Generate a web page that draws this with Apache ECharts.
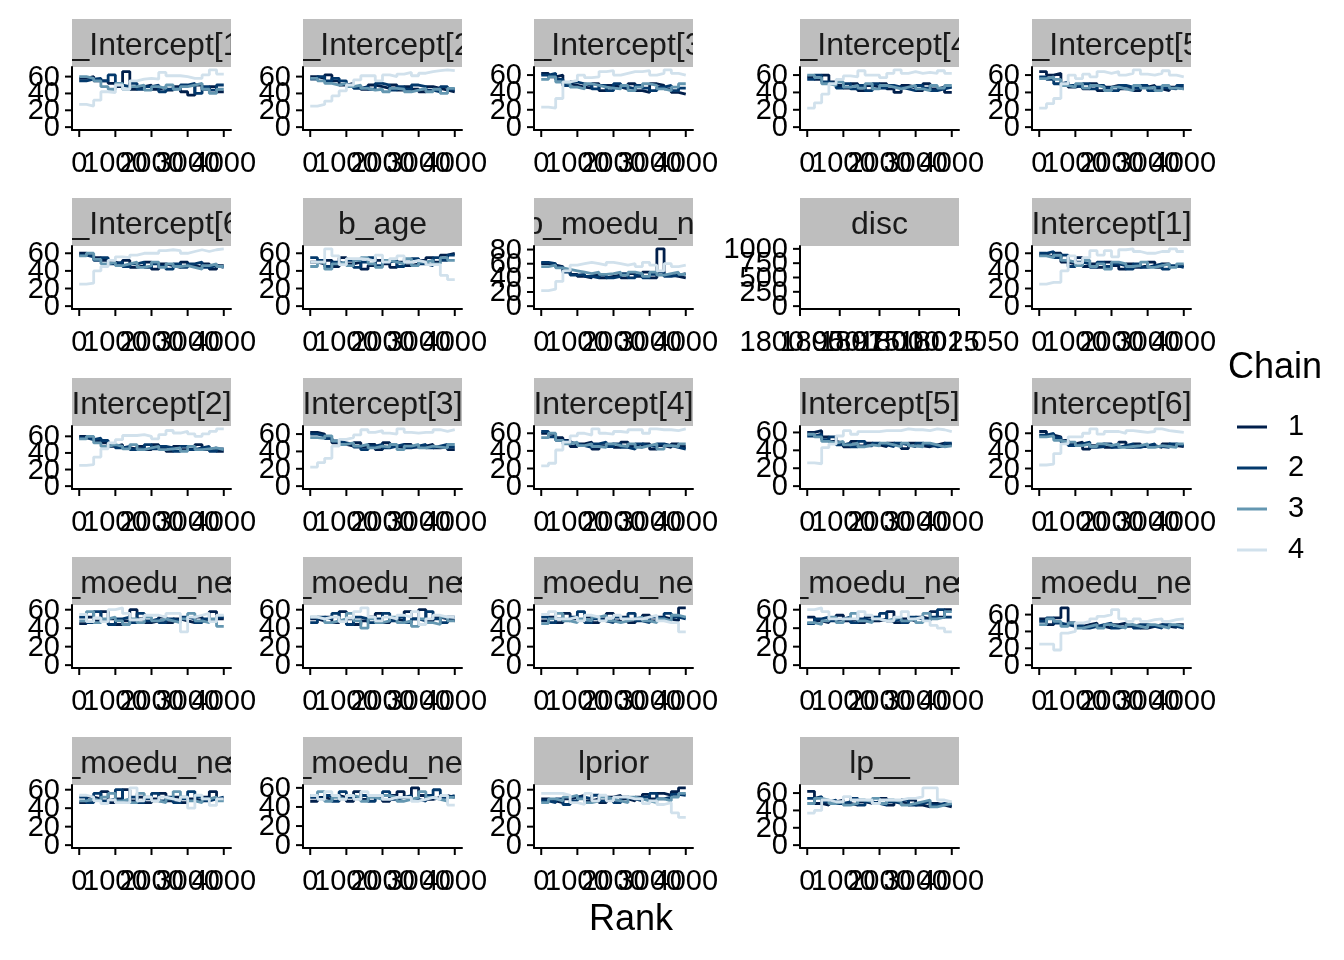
<!DOCTYPE html>
<html>
<head>
<meta charset="utf-8">
<script src="https://cdn.jsdelivr.net/npm/echarts@6/dist/echarts.min.js"></script>
<style>
html,body{margin:0;padding:0;background:#fff;}
#chart{width:1344px;height:960px;}
</style>
</head>
<body>
<div id="chart"></div>
<script>
// ---------------- DATA ----------------
const panelNames = ["b_Intercept[1]","b_Intercept[2]","b_Intercept[3]","b_Intercept[4]","b_Intercept[5]",
  "b_Intercept[6]","b_age","bsp_moedu_new","disc","Intercept[1]",
  "Intercept[2]","Intercept[3]","Intercept[4]","Intercept[5]","Intercept[6]",
  "simo_moedu_new1[1]","simo_moedu_new1[2]","simo_moedu_new1[3]","simo_moedu_new1[4]","simo_moedu_new1[5]",
  "simo_moedu_new1[6]","simo_moedu_new1[7]","lprior","lp__"];
const chainNames = ["1","2","3","4"];
const rankBinStarts = [0,200,400,600,800,1000,1200,1400,1600,1800,2000,2200,2400,2600,2800,3000,3200,3400,3600,3800];
const rankMax = 4000;
const rankTickLabels = [0,1000,2000,3000,4000];
const countTickStep = 20;
const discRankTickLabels = [1800.95,1800.975,1801.0,1801.025,1801.05];
const discCountTickLabels = [0,250,500,750,1000];

// counts per rank bin, one row per chain (1..4)
const bIntercept1 = [
  [58,60,55,55,52,48,66,45,48,50,45,47,44,48,42,38,50,45,48,42],
  [55,57,58,55,62,50,48,52,45,48,50,42,45,46,50,52,40,48,44,50],
  [60,58,55,48,45,52,45,48,50,44,48,46,50,45,48,50,52,45,40,45],
  [27,25,32,42,41,50,45,55,57,58,57,65,61,61,60,58,58,62,68,63]];
const bIntercept2 = [
  [60,58,62,55,50,52,48,45,50,48,46,50,44,48,45,42,48,46,44,42],
  [57,60,55,58,55,50,46,48,45,52,50,44,48,45,50,48,44,42,48,45],
  [58,55,52,50,52,48,50,46,44,45,42,46,45,42,44,46,42,45,40,46],
  [25,27,31,37,43,50,56,61,61,55,62,60,63,65,61,64,66,67,68,67]];
const bIntercept3 = [
  [62,58,60,50,48,46,45,50,42,48,46,44,50,42,40,50,48,44,40,38],
  [60,62,55,48,52,50,48,44,48,42,50,46,44,48,45,42,46,48,42,45],
  [55,58,52,50,46,44,50,48,46,45,44,48,42,46,50,48,44,42,46,50],
  [23,22,33,52,54,60,57,58,64,65,60,62,64,64,65,60,62,66,62,60]];
const bIntercept4 = [
  [58,55,60,52,48,45,50,42,48,46,50,44,40,48,46,42,50,44,46,40],
  [55,60,52,50,45,50,44,48,42,50,45,48,46,44,42,48,45,42,44,46],
  [60,57,50,48,52,46,48,45,50,44,48,46,44,46,48,44,42,48,45,48],
  [22,28,38,50,55,59,58,65,60,60,57,62,66,62,64,62,63,62,65,62]];
const bIntercept5 = [
  [64,60,62,50,46,48,44,50,42,46,48,44,45,42,46,48,44,42,46,44],
  [58,55,50,52,48,46,50,44,48,45,42,48,46,44,48,42,46,45,44,48],
  [56,58,55,48,46,50,45,48,46,42,46,44,42,48,45,46,42,48,45,44],
  [22,27,33,50,60,56,61,58,64,62,64,60,62,66,61,60,62,65,60,58]];
const bIntercept6 = [
  [60,58,55,52,50,48,52,44,46,50,42,48,46,44,50,46,44,48,42,46],
  [58,56,52,55,48,50,45,48,50,44,48,45,42,48,44,48,50,44,46,44],
  [57,60,53,48,50,46,48,50,44,46,50,44,48,45,46,44,42,46,48,45],
  [25,26,40,45,52,56,55,58,60,60,60,63,64,63,60,62,64,62,64,65]];
const bAge = [
  [50,48,52,45,55,48,50,42,46,52,48,44,50,46,48,52,55,50,58,60],
  [55,52,45,50,48,52,44,50,55,46,50,52,45,50,54,48,46,55,52,58],
  [45,50,42,48,50,46,52,55,48,44,52,50,48,54,46,50,52,48,55,52],
  [50,50,65,57,47,54,54,53,51,58,50,54,57,50,52,50,47,47,35,30]];
const bspMoeduNew = [
  [60,58,56,50,45,42,40,44,40,42,44,40,46,42,48,40,81,44,42,40],
  [62,60,55,48,44,45,42,40,44,40,42,46,40,44,40,45,48,42,44,46],
  [56,58,54,52,50,48,46,48,45,46,48,44,48,46,42,48,44,46,48,45],
  [22,24,35,50,58,60,62,60,58,62,60,58,60,56,62,58,50,60,56,58]];
const disc = [[],[],[],[]];
const intercept1 = [
  [58,56,60,50,48,55,45,48,44,50,46,42,48,44,46,50,44,48,45,46],
  [60,62,55,58,45,50,48,44,50,45,48,46,42,48,44,46,48,42,46,44],
  [57,55,58,52,50,46,52,45,48,42,50,48,45,46,50,44,46,48,44,48],
  [25,27,27,40,57,49,55,63,58,63,56,64,65,62,60,60,62,62,65,62]];
const intercept2 = [
  [60,58,55,52,48,50,46,45,48,44,50,46,42,48,44,45,50,44,46,42],
  [58,56,58,55,50,46,48,44,46,50,45,48,46,42,48,44,46,48,42,45],
  [57,60,52,48,50,48,45,50,44,46,48,44,45,46,42,48,44,45,46,44],
  [25,26,35,45,52,56,61,61,62,60,57,62,67,64,66,63,60,63,66,69]];
const intercept3 = [
  [62,60,55,50,48,46,50,45,48,42,50,46,44,48,45,46,48,44,45,42],
  [60,58,55,52,50,48,45,42,46,48,44,46,48,44,46,48,44,46,48,45],
  [56,55,58,52,48,50,46,48,44,46,45,48,42,46,48,44,46,45,44,48],
  [22,27,32,46,54,56,59,65,62,64,61,60,66,62,61,62,62,65,63,65]];
const intercept4 = [
  [60,58,55,52,45,48,50,42,46,48,44,50,46,44,48,42,46,44,48,45],
  [62,56,52,50,48,46,44,48,50,45,48,44,42,48,46,45,48,46,44,42],
  [55,60,52,48,50,46,48,45,44,48,46,45,48,44,46,48,42,46,45,48],
  [23,26,41,50,57,60,58,65,60,59,62,61,64,64,60,65,64,64,63,65]];
const intercept5 = [
  [60,62,55,50,48,44,50,45,48,46,44,48,46,42,48,45,44,46,48,46],
  [56,58,52,55,46,48,44,50,45,48,46,44,48,46,44,48,46,44,45,48],
  [58,55,50,48,50,46,48,44,46,45,48,46,44,48,45,44,48,46,44,45],
  [26,25,43,47,56,62,58,61,61,61,62,62,62,64,63,63,62,64,63,61]];
const intercept6 = [
  [62,58,56,52,48,50,42,46,48,44,46,50,44,48,45,46,44,48,46,45],
  [58,60,55,50,46,48,50,44,45,48,44,46,48,44,46,48,45,44,48,46],
  [56,57,52,50,50,46,48,45,48,46,48,44,45,46,48,44,46,45,44,48],
  [24,25,37,48,56,56,60,65,59,62,62,60,63,62,61,62,65,63,62,61]];
const simo1 = [
  [45,52,48,58,50,44,48,60,50,46,48,52,46,50,48,46,52,48,58,50],
  [52,46,58,48,44,50,52,46,56,48,50,46,50,48,52,50,46,50,48,52],
  [48,58,46,50,52,48,44,50,46,52,48,50,48,46,50,56,48,46,50,42],
  [55,47,51,47,60,62,56,49,50,54,54,52,56,56,36,52,54,56,47,54]];
const simo2 = [
  [50,48,52,46,58,50,44,48,52,56,46,50,48,58,50,60,48,52,50,48],
  [46,52,50,56,48,44,52,50,46,50,56,48,52,46,50,48,58,50,46,52],
  [52,50,46,48,50,56,48,40,50,46,48,52,46,48,42,50,46,44,52,48],
  [52,50,52,52,47,51,58,62,52,48,52,50,54,52,58,44,50,54,52,52]];
const simo3 = [
  [48,52,46,56,50,48,52,46,50,56,48,52,46,50,54,48,52,50,48,62],
  [52,46,50,48,52,58,46,50,48,46,52,50,56,48,46,52,50,56,52,50],
  [45,50,56,48,46,50,48,52,54,48,46,48,50,52,48,46,50,48,54,52],
  [55,58,50,50,52,48,54,52,48,51,54,50,50,50,52,54,48,46,46,36]];
const simo4 = [
  [52,48,46,50,54,48,50,46,52,48,50,58,46,50,48,52,50,58,52,60],
  [45,50,52,48,50,52,46,50,48,52,56,48,50,46,52,50,48,52,60,52],
  [46,44,48,52,46,50,56,48,46,50,48,50,52,48,50,46,56,50,52,58],
  [60,62,58,50,50,50,50,58,54,50,48,48,52,58,50,52,48,43,40,36]];
const simo5 = [
  [55,48,56,68,50,46,48,50,46,44,48,50,46,48,44,46,48,46,45,48],
  [52,56,50,48,46,48,44,46,48,50,44,46,48,44,48,46,44,48,46,44],
  [48,55,52,46,50,44,46,48,44,48,46,44,48,46,44,48,46,44,48,46],
  [25,25,18,38,40,50,52,55,58,60,66,55,52,55,52,54,55,52,54,55]];
const simo6 = [
  [46,52,50,58,46,50,60,48,52,46,50,56,48,52,46,50,48,52,58,50],
  [52,46,56,48,50,60,48,52,46,50,56,48,52,46,50,58,52,48,50,52],
  [48,50,48,52,56,48,50,46,56,52,48,46,50,58,52,48,46,50,52,48],
  [54,52,48,45,49,46,46,62,48,52,48,52,50,48,52,40,54,50,43,50]];
const simo7 = [
  [46,50,48,52,50,46,56,48,52,50,46,52,56,50,60,52,48,50,52,50],
  [50,48,52,46,56,50,48,52,46,50,56,48,50,52,48,46,52,58,50,52],
  [52,56,46,50,48,52,50,46,50,48,52,50,46,48,50,56,50,48,46,50],
  [52,48,56,52,48,52,48,56,52,52,48,50,50,50,46,48,50,48,52,42]];
const lprior = [
  [50,48,46,50,52,54,48,50,46,52,54,50,48,52,55,50,56,54,58,62],
  [48,46,50,44,48,52,50,54,48,50,46,52,50,48,52,56,50,52,55,54],
  [46,50,48,52,54,50,46,48,52,50,48,46,52,50,48,46,50,48,52,56],
  [56,56,56,54,46,44,56,48,54,48,52,52,50,50,45,48,44,46,35,30]];
const lp = [
  [62,48,46,50,52,48,46,50,48,50,54,46,50,48,52,46,44,48,46,44],
  [54,56,50,52,48,50,54,46,50,48,46,50,48,52,46,48,50,46,48,46],
  [48,54,52,48,50,46,48,52,50,54,48,52,50,46,48,50,52,44,46,48],
  [37,40,52,50,50,56,52,52,52,48,52,52,52,54,54,56,66,66,52,50]];

const panelData = [bIntercept1,bIntercept2,bIntercept3,bIntercept4,bIntercept5,
  bIntercept6,bAge,bspMoeduNew,disc,intercept1,
  intercept2,intercept3,intercept4,intercept5,intercept6,
  simo1,simo2,simo3,simo4,simo5,simo6,simo7,lprior,lp];

// ---------------- STYLE / LAYOUT ----------------
const chainColors = ["#011f4b","#03396c","#6497b1","#d1e1ec"];
const FONT = "'Liberation Sans', Arial, Helvetica, sans-serif";
const colLeft = [72, 303, 534, 800, 1032];
const rowTop = [67, 246, 426, 605, 785];
const PW = 159, PH = 63, STRIP_H = 48, TICK = 7;

const grids = [], xAxes = [], yAxes = [], series = [], graphics = [];
const panelTicks = [];
const hiddenParts = {axisTick: {show: false}, axisLabel: {show: false}, splitLine: {show: false}};

panelNames.forEach((name, p) => {
  const r = Math.floor(p / 5), c = p % 5;
  const left = colLeft[c], top = rowTop[r];
  const isDisc = name === "disc";
  const d = panelData[p];
  let maxV = 0;
  d.forEach(arr => arr.forEach(v => { if (v > maxV) maxV = v; }));

  let xMin, xMax, yMin, yMax, xTicks, yTicks;
  if (isDisc) {
    xTicks = discRankTickLabels; yTicks = discCountTickLabels;
    xMin = xTicks[0]; xMax = xTicks[xTicks.length - 1];
    const span = yTicks[yTicks.length - 1] - yTicks[0];
    yMin = yTicks[0] - 0.05 * span; yMax = yTicks[yTicks.length - 1] + 0.05 * span;
  } else {
    xTicks = rankTickLabels;
    yTicks = [];
    for (let t = 0; t <= maxV; t += countTickStep) yTicks.push(t);
    xMin = -0.05 * rankMax; xMax = 1.05 * rankMax;
    yMin = -0.05 * maxV; yMax = 1.05 * maxV;
  }
  panelTicks.push({x: xTicks, y: yTicks, isDisc: isDisc, left: left, top: top});

  grids.push({left: left, top: top, width: PW, height: PH, containLabel: false});
  xAxes.push(Object.assign({type: "value", gridIndex: p, min: xMin, max: xMax, z: 200,
    axisLine: {show: true, onZero: false, lineStyle: {color: "#000", width: 2}}}, hiddenParts));
  yAxes.push(Object.assign({type: "value", gridIndex: p, min: yMin, max: yMax, z: 200,
    axisLine: {show: true, onZero: false, lineStyle: {color: "#000", width: 2}}}, hiddenParts));

  d.forEach((arr, ci) => {
    if (!arr.length) return;
    const pts = arr.map((v, i) => [rankBinStarts[i], v]);
    pts.push([rankMax, arr[arr.length - 1]]);
    series.push({
      type: "line", name: chainNames[ci], xAxisIndex: p, yAxisIndex: p,
      data: pts, step: "end", showSymbol: false, symbol: "none",
      color: chainColors[ci],
      lineStyle: {color: chainColors[ci], width: 2.8},
      emphasis: {disabled: true}, silent: true, z: 2
    });
  });

  // strip: each later strip rect covers earlier strip text overflow
  graphics.push({type: "rect", z: 10 + 2 * p, shape: {x: left, y: top - STRIP_H, width: PW, height: STRIP_H},
    style: {fill: "#BEBEBE"}, silent: true});
  graphics.push({type: "text", z: 11 + 2 * p, x: left + PW / 2, y: top - STRIP_H / 2 + 3,
    style: {text: name, fill: "#1a1a1a", font: "32px " + FONT, textAlign: "center", textVerticalAlign: "middle"},
    silent: true});
});
// white covers clipping strip text overflow in the gaps
rowTop.forEach(top => {
  const edges = [[0, colLeft[0]]];
  for (let c = 0; c < 4; c++) edges.push([colLeft[c] + PW, colLeft[c + 1]]);
  edges.push([colLeft[4] + PW, 1344]);
  edges.forEach(e => graphics.push({type: "rect", z: 100,
    shape: {x: e[0], y: top - STRIP_H - 2, width: e[1] - e[0], height: STRIP_H + 1},
    style: {fill: "#fff"}, silent: true}));
});
// legend title and x-axis title
graphics.push({type: "text", z: 300, x: 1228, y: 368,
  style: {text: "Chain", fill: "#000", font: "36px " + FONT, textAlign: "left", textVerticalAlign: "middle"}});
graphics.push({type: "text", z: 300, x: 631, y: 920,
  style: {text: "Rank", fill: "#000", font: "36px " + FONT, textAlign: "center", textVerticalAlign: "middle"}});

const chart = echarts.init(document.getElementById("chart"), null, {renderer: "canvas"});
const baseOption = {
  animation: false,
  backgroundColor: "#fff",
  grid: grids,
  xAxis: xAxes,
  yAxis: yAxes,
  series: series,
  legend: {
    z: 300,
    data: chainNames, orient: "vertical", left: 1232, top: 407,
    icon: "rect", itemWidth: 30, itemHeight: 3, itemGap: 11,
    selectedMode: false,
    textStyle: {fontSize: 29, fontFamily: FONT, color: "#000", lineHeight: 30, padding: [0, 0, 0, 16]}
  },
  graphic: graphics
};
chart.setOption(baseOption);

// tick marks and tick labels placed through each panel's own axis scales
const tickGraphics = [];
panelTicks.forEach((t, p) => {
  const axisY = t.top + PH, axisX = t.left;
  t.x.forEach(v => {
    const px = chart.convertToPixel({xAxisIndex: p}, v);
    tickGraphics.push({type: "line", z: 250, silent: true,
      shape: {x1: px, y1: axisY, x2: px, y2: axisY + TICK}, style: {stroke: "#000", lineWidth: 2}});
    tickGraphics.push({type: "text", z: 250, silent: true, x: px, y: axisY + 34,
      style: {text: t.isDisc ? v.toFixed(3) : String(v), fill: "#000", font: "29px " + FONT,
        textAlign: "center", textVerticalAlign: "middle"}});
  });
  t.y.forEach(v => {
    const py = chart.convertToPixel({yAxisIndex: p}, v);
    tickGraphics.push({type: "line", z: 250, silent: true,
      shape: {x1: axisX - TICK, y1: py, x2: axisX, y2: py}, style: {stroke: "#000", lineWidth: 2}});
    tickGraphics.push({type: "text", z: 250, silent: true, x: axisX - 12, y: py + 1,
      style: {text: String(v), fill: "#000", font: "29px " + FONT,
        textAlign: "right", textVerticalAlign: "middle"}});
  });
});
chart.setOption({graphic: graphics.concat(tickGraphics)});
</script>
</body>
</html>
